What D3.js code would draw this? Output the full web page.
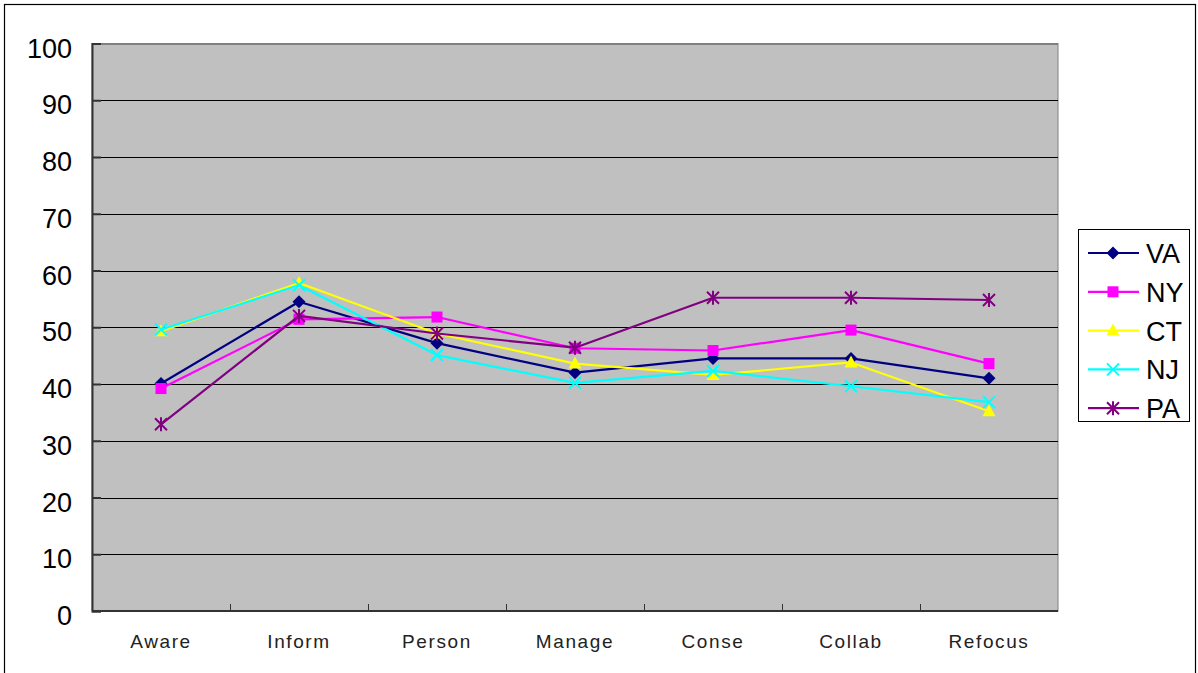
<!DOCTYPE html>
<html>
<head>
<meta charset="utf-8">
<script src="https://cdn.jsdelivr.net/npm/d3@7"></script>
<style>
  html, body { margin: 0; padding: 0; background: #fff; }
  svg { display: block; }
</style>
</head>
<body>
<svg id="chart" width="1198" height="673"></svg>
<script>
// Stages of concern, mean scores per state
const categories = ["Aware", "Inform", "Person", "Manage", "Conse", "Collab", "Refocus"];
const seriesNames = ["VA", "NY", "CT", "NJ", "PA"];
const VA = [40.1, 54.5, 47.2, 42.0, 44.5, 44.5, 41.0];
const NY = [39.2, 51.4, 51.8, 46.3, 45.9, 49.5, 43.6];
const CT = [49.3, 57.8, 48.9, 43.6, 41.6, 43.8, 35.2];
const NJ = [49.6, 57.4, 45.1, 40.2, 42.3, 39.6, 36.8];
const PA = [32.9, 52.0, 48.9, 46.4, 55.2, 55.2, 54.8];
const yTicks = [0, 10, 20, 30, 40, 50, 60, 70, 80, 90, 100];

const seriesValues = [VA, NY, CT, NJ, PA];
const colors = ["#000080", "#FF00FF", "#FFFF00", "#00FFFF", "#800080"];
const markers = ["diamond", "square", "triangle", "cross", "star"];

const svg = d3.select("#chart");
const plot = { left: 92, top: 43.5, right: 1058, bottom: 611 };

// outer chart frame
svg.append("rect")
  .attr("x", 4.5).attr("y", 4.5)
  .attr("width", 1191).attr("height", 690)
  .attr("fill", "#fff").attr("stroke", "#000").attr("stroke-width", 1.2);

const x = d3.scaleBand().domain(categories).range([plot.left, plot.right]).padding(0);
const y = d3.scaleLinear().domain([0, 100]).range([plot.bottom, plot.top]);

// plot background
svg.append("rect")
  .attr("x", plot.left).attr("y", plot.top)
  .attr("width", plot.right - plot.left).attr("height", plot.bottom - plot.top)
  .attr("fill", "#C0C0C0").attr("stroke", "#808080").attr("stroke-width", 1);

// horizontal gridlines
svg.append("g").selectAll("line")
  .data(yTicks.filter(t => t > 0))
  .join("line")
  .attr("x1", plot.left).attr("x2", plot.right)
  .attr("y1", d => Math.round(y(d)) + 0.5).attr("y2", d => Math.round(y(d)) + 0.5)
  .attr("stroke", d => d === 100 ? "#808080" : "#000").attr("stroke-width", 1);

// y axis
const yAxis = d3.axisLeft(y).tickValues(yTicks).tickSize(-9).tickPadding(20)
  .tickFormat(d3.format("d"));
const gy = svg.append("g").attr("transform", `translate(${plot.left},0)`).call(yAxis);
gy.select(".domain").attr("stroke", "#333").attr("stroke-width", 2);
gy.selectAll(".tick line").attr("stroke", "#333").attr("stroke-width", 2);
gy.selectAll(".tick text")
  .attr("font-family", "'Liberation Sans', Arial, sans-serif")
  .attr("font-size", 27).attr("fill", "#000").attr("dy", "0.5em");

// x axis: ticks at category boundaries, labels centred in bands
const gx = svg.append("g").attr("transform", `translate(0,${plot.bottom})`);
gx.append("line")
  .attr("x1", plot.left).attr("x2", plot.right)
  .attr("y1", 0).attr("y2", 0)
  .attr("stroke", "#333").attr("stroke-width", 2);
gx.selectAll(".bt")
  .data(categories.slice(1))
  .join("line").attr("class", "bt")
  .attr("x1", d => Math.round(x(d)) + 0.5).attr("x2", d => Math.round(x(d)) + 0.5)
  .attr("y1", 0).attr("y2", -7)
  .attr("stroke", "#333").attr("stroke-width", 1);
gx.selectAll("text")
  .data(categories)
  .join("text")
  .attr("x", d => x(d) + x.bandwidth() / 2)
  .attr("y", 37)
  .attr("text-anchor", "middle")
  .attr("font-family", "'Liberation Sans', Arial, sans-serif")
  .attr("font-size", 19)
  .attr("letter-spacing", "1.6px")
  .attr("fill", "#222")
  .text(d => d);

const cx = d => x(d) + x.bandwidth() / 2;

function drawMarker(g, type, color, px, py) {
  if (type === "diamond") {
    g.append("path")
      .attr("d", `M${px},${py - 6.5}L${px + 6.5},${py}L${px},${py + 6.5}L${px - 6.5},${py}Z`)
      .attr("fill", color);
  } else if (type === "square") {
    g.append("rect").attr("x", px - 5.5).attr("y", py - 5.5)
      .attr("width", 11).attr("height", 11).attr("fill", color);
  } else if (type === "triangle") {
    g.append("path")
      .attr("d", `M${px},${py - 7}L${px + 6.5},${py + 5}L${px - 6.5},${py + 5}Z`)
      .attr("fill", color);
  } else if (type === "cross") {
    g.append("path")
      .attr("d", `M${px - 6},${py - 6}L${px + 6},${py + 6}M${px - 6},${py + 6}L${px + 6},${py - 6}`)
      .attr("stroke", color).attr("stroke-width", 2).attr("fill", "none");
  } else if (type === "star") {
    g.append("path")
      .attr("d", `M${px - 6},${py - 6}L${px + 6},${py + 6}M${px - 6},${py + 6}L${px + 6},${py - 6}M${px},${py - 7}L${px},${py + 7}`)
      .attr("stroke", color).attr("stroke-width", 2).attr("fill", "none");
  }
}

const line = d3.line().x((d, i) => cx(categories[i])).y(d => y(d));

seriesValues.forEach((vals, si) => {
  const g = svg.append("g");
  g.append("path").datum(vals)
    .attr("d", line)
    .attr("fill", "none").attr("stroke", colors[si]).attr("stroke-width", 2.2)
    .attr("stroke-linejoin", "round");
  vals.forEach((v, i) => drawMarker(g, markers[si], colors[si], cx(categories[i]), y(v)));
});

// legend
const legend = svg.append("g");
legend.append("rect")
  .attr("x", 1078.5).attr("y", 229.5).attr("width", 111).attr("height", 192)
  .attr("fill", "#fff").attr("stroke", "#000").attr("stroke-width", 1);
seriesNames.forEach((name, si) => {
  const ly = 253 + si * 38.8;
  const g = legend.append("g");
  g.append("line").attr("x1", 1088).attr("x2", 1139).attr("y1", ly).attr("y2", ly)
    .attr("stroke", colors[si]).attr("stroke-width", 2.2);
  drawMarker(g, markers[si], colors[si], 1113, ly);
  g.append("text")
    .attr("x", 1146).attr("y", ly + 10)
    .attr("font-family", "'Liberation Sans', Arial, sans-serif")
    .attr("font-size", 27).attr("fill", "#000")
    .text(name);
});
</script>
</body>
</html>
